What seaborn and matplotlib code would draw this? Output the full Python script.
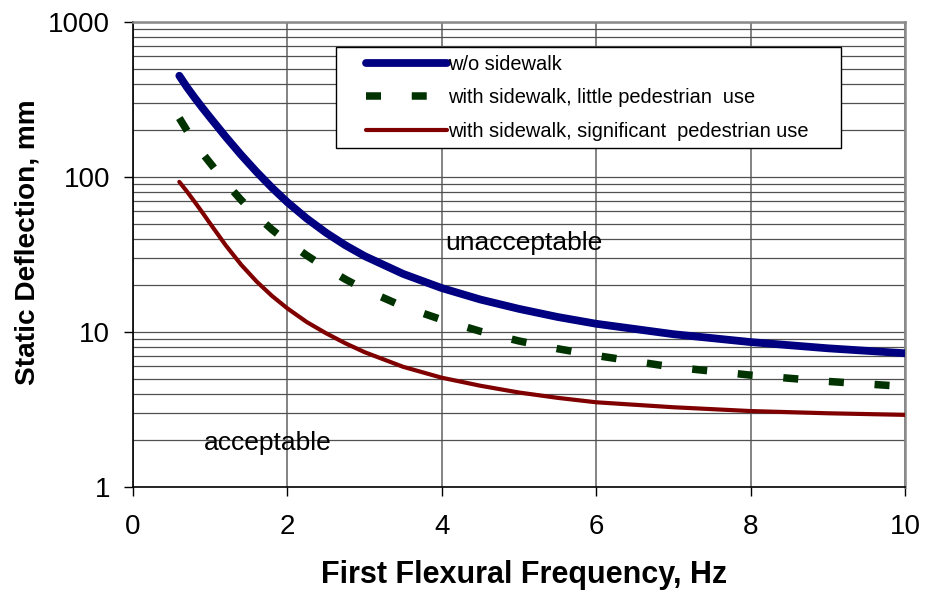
import numpy as np
import matplotlib
matplotlib.use("Agg")
import matplotlib.pyplot as plt
from matplotlib.patches import Rectangle
from matplotlib.ticker import LogLocator, NullFormatter
import seaborn as sns

# Deflection limits versus first flexural frequency
freq = [0.6, 0.7, 0.8, 0.9, 1.0, 1.2, 1.4, 1.6, 1.8, 2.0, 2.25, 2.5, 2.75,
        3.0, 3.5, 4.0, 4.5, 5.0, 5.5, 6.0, 7.0, 8.0, 9.0, 10.0]
no_sidewalk = [450, 379, 324, 279, 241.5, 182, 139, 108, 85.3, 68.7, 54.0, 43.7,
               36.3, 30.9, 23.7, 19.2, 16.2, 14.1, 12.5, 11.3, 9.68, 8.61, 7.85,
               7.29]
little_use = [240, 199, 166, 142, 123, 92, 71.1, 56.3, 45.8, 38.2, 31.2, 25.9,
              21.9, 18.8, 14.6, 12.0, 10.1, 8.75, 7.8, 7.05, 5.93, 5.27, 4.8, 4.45]
significant_use = [93, 80.5, 69.0, 58.9, 50.0, 36.3, 27.2, 21.2, 17.1, 14.2, 11.6,
                   9.82, 8.46, 7.41, 5.96, 5.07, 4.5, 4.07, 3.76, 3.52, 3.27, 3.09,
                   2.99, 2.92]

series_labels = ["w/o sidewalk",
                 "with sidewalk, little pedestrian  use",
                 "with sidewalk, significant  pedestrian use"]
y_ticks = [1, 10, 100, 1000]
y_tick_labels = ["1", "10", "100", "1000"]
x_ticks = [0, 2, 4, 6, 8, 10]

sns.set_style("ticks")
plt.rcParams["font.family"] = ["Liberation Sans", "DejaVu Sans"]
plt.rcParams.update({"text.color": "black", "axes.labelcolor": "black",
                     "xtick.color": "black", "ytick.color": "black"})

W, H = 925, 602
fig = plt.figure(figsize=(W / 100, H / 100), dpi=100)
ax = fig.add_axes([133 / W, 115 / H, 772 / W, 465 / H])

sns.lineplot(x=freq, y=no_sidewalk, ax=ax, color="#000080", lw=5.6,
             solid_capstyle="round", solid_joinstyle="round",
             label=series_labels[0], zorder=3)
sns.lineplot(x=freq, y=little_use, ax=ax, color="#003300", lw=5.4,
             linestyle=(0, (2.0, 4.1)), dash_capstyle="butt",
             label=series_labels[1], zorder=3)
sns.lineplot(x=freq, y=significant_use, ax=ax, color="#800000", lw=3.0,
             solid_capstyle="round", solid_joinstyle="round",
             label=series_labels[2], zorder=3)

ax.set_yscale("log")
ax.set_xlim(0, 10)
ax.set_ylim(1, 1000)
ax.set_xticks(x_ticks)
ax.set_xticklabels([str(v) for v in x_ticks])
ax.set_yticks(y_ticks)
ax.set_yticklabels(y_tick_labels)
ax.yaxis.set_minor_locator(LogLocator(base=10, subs=np.arange(2, 10)))
ax.yaxis.set_minor_formatter(NullFormatter())
ax.tick_params(which="minor", length=0)
ax.tick_params(which="major", labelsize=20, length=6.5, width=1.0,
               direction="out", color="black", labelcolor="black")
ax.tick_params(axis="y", pad=10)
ax.tick_params(axis="x", pad=13)

ax.set_axisbelow(True)
ax.grid(True, which="both", axis="y", color="#505050", lw=0.9)
ax.grid(True, which="major", axis="x", color="#7a7a7a", lw=1.3)

for side in ("top", "right"):
    ax.spines[side].set_color("#8a8a8a")
    ax.spines[side].set_linewidth(1.8)
for side in ("left", "bottom"):
    ax.spines[side].set_color("black")
    ax.spines[side].set_linewidth(1.2)

ax.set_xlabel("First Flexural Frequency, Hz", fontsize=22, fontweight="bold")
ax.set_ylabel("Static Deflection, mm", fontsize=20.2, fontweight="bold")
ax.xaxis.label.set_va("center")
ax.yaxis.label.set_va("center")
ax.xaxis.set_label_coords((524 - 133) / 772, (487 - 575) / 465)
ax.yaxis.set_label_coords((27.5 - 133) / 772, (487 - 242.5) / 465)

ax.text(4.04, 37.5, "unacceptable", fontsize=19, ha="left", va="center")
ax.text(0.92, 1.92, "acceptable", fontsize=19, ha="left", va="center")

# legend frame drawn as its own box, the legend itself without a frame
box = Rectangle((336 / W, 1 - 148 / H), (841 - 336) / W, (148 - 47) / H,
                transform=fig.transFigure, facecolor="white",
                edgecolor="black", lw=1.0, zorder=4)
ax.add_patch(box)
ax.legend(loc="upper left", bbox_to_anchor=(366 / W, 1 - 55 / H),
          bbox_transform=fig.transFigure, frameon=False, fontsize=14.4,
          handlelength=4.05, handletextpad=0.05, labelspacing=0.72,
          borderpad=0, borderaxespad=0)

fig.savefig("out.png", dpi=100)
